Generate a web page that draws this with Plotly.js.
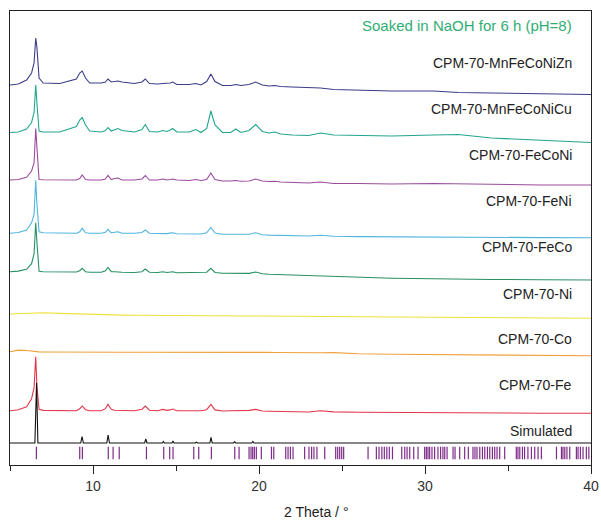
<!DOCTYPE html>
<html>
<head>
<meta charset="utf-8">
<script src="https://cdn.plot.ly/plotly-3.0.1.min.js"></script>
<style>html,body{margin:0;padding:0;background:#fff;}#chart{width:601px;height:520px;}</style>
</head>
<body>
<div id="chart"></div>
<script>
// ---------------- DATA ----------------
var sampleNames = ["CPM-70-MnFeCoNiZn","CPM-70-MnFeCoNiCu","CPM-70-FeCoNi","CPM-70-FeNi","CPM-70-FeCo","CPM-70-Ni","CPM-70-Co","CPM-70-Fe"];
var simName = "Simulated";
var noteText = "Soaked in NaOH for 6 h (pH=8)";

// common 2-theta sampling for the measured patterns
var twoTheta = [5.0,5.5,6.0,6.3,6.45,6.55,6.62,6.75,7.0,8.0,9.0,9.2,9.35,9.55,9.8,10.5,10.75,10.9,11.1,11.3,11.5,11.75,12.5,12.95,13.15,13.4,13.9,14.2,14.45,14.65,14.8,15.05,15.8,16.2,16.5,16.85,17.1,17.35,17.8,18.3,18.6,18.9,19.4,19.8,20.2,20.6,20.95,21.3,22,23,23.7,24.5,26,28,30.5,32,34,37,40];

// intensities (relative to each pattern's own baseline at 5 deg)
var iMnFeCoNiZn = [0,1,5,12,22,47,38,7,2,1.5,6,12,14,7,2,2,3,6,3,3.5,4,3,1.5,3,6,1.5,1,1.5,1.5,2,3,0.5,0.5,1.5,0,3.5,11,3.5,-0.5,-0.5,0.5,-0.5,0.5,3,0,-1,-0.5,-1.5,-2,-2.5,-3,-4.5,-5,-6,-6,-7.5,-8,-9,-9.5];
var iMnFeCoNiCu = [0,0.5,3.5,10,20,47.5,30,1.5,0.5,0.5,6,12.5,15,7.5,1.5,0.5,2,5,1.5,2.5,4,2,0.5,3,8,1,0.5,2,1,2.5,4,0.5,0.5,3,0,4,21.5,7.5,0,0,3.5,0,2,8,1,-0.5,0.5,-1.5,-2.5,-3,-0.5,-2.5,-3,-3.5,-2.5,-2,-5.5,-8,-10];
var iFeCoNi = [0,0.5,2.7,9,17,51.5,33,0.5,0.3,0,0,1.5,5,0.5,0,0,1,4.5,0.5,1.5,2,0,0,1,4.5,0,0,1,0,0.5,1,0,-0.5,0.5,-0.5,0.5,7,0.5,-1,-1,-0.5,-1.2,-1,1,-1,-1.5,-1.2,-2,-2.5,-3,-2,-3.5,-3.5,-4,-3.5,-4,-4.5,-5,-5];
var iFeNi = [0,0.8,3.3,10.5,19,53,30,1.5,0.5,0,0,1.5,5,0.5,0,0,1,4,0.5,1,1.5,0,0,0.8,3.3,0,-0.3,0,-0.3,0.2,0.5,-0.5,-0.5,0,-0.7,0.5,6,0.3,-1,-1,-1,-1.2,-1,0.5,-1.5,-1.8,-2,-2,-2.4,-2.7,-2,-3,-3.3,-3.6,-3.6,-3.9,-4.1,-4.3,-4.4];
var iFeCo = [0,0.6,2.4,8,18,49,30,0.5,0,-0.3,-0.3,1,3.4,0,-0.5,-0.5,1,4.4,0,0,0,-0.5,-0.8,0,2.7,-0.5,-0.8,0,-0.8,-0.5,0,-1,-1,-1,-1.2,-0.5,3.4,-0.8,-1.5,-1.7,-1.7,-2,-1.7,-0.3,-2,-2.5,-2.7,-3,-3.5,-4.3,-4,-4.8,-5.5,-6.5,-7,-7.5,-7.8,-8,-8.3];
var iNi = [0,0.3,0.6,0.8,1,1,1,1.2,1.3,0.6,0,0,0,-0.2,-0.3,-0.5,-0.7,-0.8,-0.9,-1,-1,-1.1,-1.2,-1.3,-1.3,-1.4,-1.5,-1.5,-1.6,-1.6,-1.6,-1.7,-1.7,-1.8,-1.8,-1.8,-1.8,-1.9,-1.9,-1.9,-2,-2,-2,-2,-2.1,-2.1,-2.2,-2.2,-2.2,-2.3,-2.4,-2.5,-2.7,-3,-3.3,-3.6,-3.8,-4.1,-4.3];
var iCo = [0,1.6,1.2,0.5,0.2,0,-0.1,-0.2,-0.3,-0.5,-0.6,-0.6,-0.6,-0.6,-0.6,-0.6,-0.6,-0.6,-0.6,-0.6,-0.6,-0.6,-0.6,-0.6,-0.6,-0.6,-0.6,-0.6,-0.6,-0.6,-0.6,-0.6,-0.6,-0.6,-0.6,-0.2,0,-0.2,-0.5,-0.5,-0.5,-0.6,-0.6,-0.6,-0.6,-0.7,-0.8,-0.9,-1.1,-1.3,-1,-0.9,-2,-2.6,-3,-3.3,-3.5,-3.8,-4];
var iFe = [0,1,4,12,23,54,25,1.3,0.3,0,0,2,4.7,1,0,0,2,6.3,1.5,0.5,0.5,0,0,1.5,4.7,0.5,0,1.3,0.3,0.8,1.7,0,0,0.7,0,1,6.3,0.8,-0.3,0,0,-0.3,0.3,1.3,-0.3,-0.5,-0.7,-0.8,-1,-1.3,0,-1.2,-1.5,-1.8,-2,-2.2,-2.3,-2.5,-2.6];

// simulated pattern
var simTwoTheta = [5,6.5,6.6,6.68,9.26,9.34,9.42,10.83,10.91,10.99,13.11,13.18,13.25,14.18,14.24,14.3,14.76,14.82,14.88,16.16,16.23,16.3,17.04,17.11,17.18,18.46,18.53,18.6,19.56,19.63,19.7,40];
var simIntensity = [0,0,60,0,0,6.5,0,0,8,0,0,4,0,0,1.5,0,0,2,0,0,0.8,0,0,5.7,0,0,1.2,0,0,1.5,0,0];

// simulated reflection positions (2 theta)
var reflections = [6.59,9.20,9.36,10.92,11.21,11.58,13.22,14.26,14.62,14.82,16.07,16.37,17.13,18.54,18.80,19.40,19.52,19.62,19.72,19.84,20.14,20.75,20.89,21.61,21.75,21.89,22.05,22.75,23.01,23.17,23.31,23.49,23.96,24.62,24.74,24.86,24.98,25.10,26.57,27.07,27.23,27.40,27.55,27.70,27.85,28.04,28.60,28.78,28.92,29.08,29.32,29.58,29.98,30.08,30.18,30.28,30.42,30.58,30.78,30.94,31.08,31.19,31.33,31.69,31.81,32.09,32.39,32.61,32.89,33.01,33.13,33.30,33.46,33.60,33.76,33.90,34.06,34.20,34.34,34.50,34.80,35.50,35.60,35.71,35.87,36.00,36.20,36.41,36.61,36.81,37.01,37.92,38.22,38.31,38.42,38.55,38.72,39.12,39.22,39.36,39.52,39.72,39.87];

var xTickVals = [10,20,30,40];
var xTitle = "2 Theta / \u00b0";

// ---------------- STYLE / LAYOUT ----------------
var seriesData = [iMnFeCoNiZn,iMnFeCoNiCu,iFeCoNi,iFeNi,iFeCo,iNi,iCo,iFe];
var offsets = [380,332.5,285,231.7,193.3,151,113.3,54.3];
var simOffset = 22;
var colors = ["#3b3d86","#22a58e","#9a4c9c","#4fb6dc","#289063","#eee13c","#f0a03a","#e2364a"];
var labelY = [402,356,310,264,218,171,126,80];
var simLabelY = 34;
var noteY = 440;
var labelX = 38.96;
var tickRowY = 12;
var font = "Liberation Sans, Arial, sans-serif";

var traces = [];
for (var i = 0; i < seriesData.length; i++) {
  (function(k){
    traces.push({
      type: "scatter", mode: "lines", x: twoTheta,
      y: seriesData[k].map(function(v){ return v + offsets[k]; }),
      line: {color: colors[k], width: 1.1}, hoverinfo: "skip", showlegend: false
    });
  })(i);
}
traces.push({
  type: "scatter", mode: "lines", x: simTwoTheta,
  y: simIntensity.map(function(v){ return v + simOffset; }),
  line: {color: "#111111", width: 1.1}, showlegend: false, hoverinfo: "skip"
});
traces.push({
  type: "scatter", mode: "markers", x: reflections,
  y: reflections.map(function(){ return tickRowY; }),
  marker: {symbol: "line-ns", size: 9, line: {width: 1.2, color: "#7d2b88"}},
  showlegend: false, hoverinfo: "skip"
});

var annotations = [];
for (var j = 0; j < sampleNames.length; j++) {
  annotations.push({xref: "x", yref: "y", x: labelX, y: labelY[j], text: sampleNames[j],
    xanchor: "right", yanchor: "middle", showarrow: false,
    font: {family: font, size: 14, color: "#222"}});
}
annotations.push({xref: "x", yref: "y", x: labelX, y: simLabelY, text: simName,
  xanchor: "right", yanchor: "middle", showarrow: false, font: {family: font, size: 14, color: "#222"}});
annotations.push({xref: "x", yref: "y", x: labelX, y: noteY, text: noteText,
  xanchor: "right", yanchor: "middle", showarrow: false, font: {family: font, size: 15, color: "#2fae74"}});
annotations.push({xref: "paper", yref: "paper", x: 0.527, y: -0.1035, text: xTitle,
  xanchor: "center", yanchor: "middle", showarrow: false, font: {family: font, size: 14, color: "#222"}});

var layout = {
  width: 601, height: 520,
  margin: {l: 10, r: 10, t: 11, b: 55, pad: 0},
  paper_bgcolor: "#fff", plot_bgcolor: "#fff",
  showlegend: false,
  xaxis: {
    range: [5, 40], tickvals: xTickVals, ticks: "outside", ticklen: 8, tickwidth: 1, tickcolor: "#222",
    showline: true, linecolor: "#222", linewidth: 1, mirror: true, showgrid: false, zeroline: false,
    tickfont: {family: font, size: 14, color: "#333"},
    minor: {dtick: 5, tick0: 0, ticks: "outside", ticklen: 5, tickwidth: 1, tickcolor: "#222", showgrid: false}
  },
  yaxis: {
    range: [0, 454], showticklabels: false, ticks: "", showline: true, linecolor: "#222", linewidth: 1,
    mirror: true, showgrid: false, zeroline: false
  },
  annotations: annotations
};

Plotly.newPlot("chart", traces, layout, {displayModeBar: false, staticPlot: true});
</script>
</body>
</html>
